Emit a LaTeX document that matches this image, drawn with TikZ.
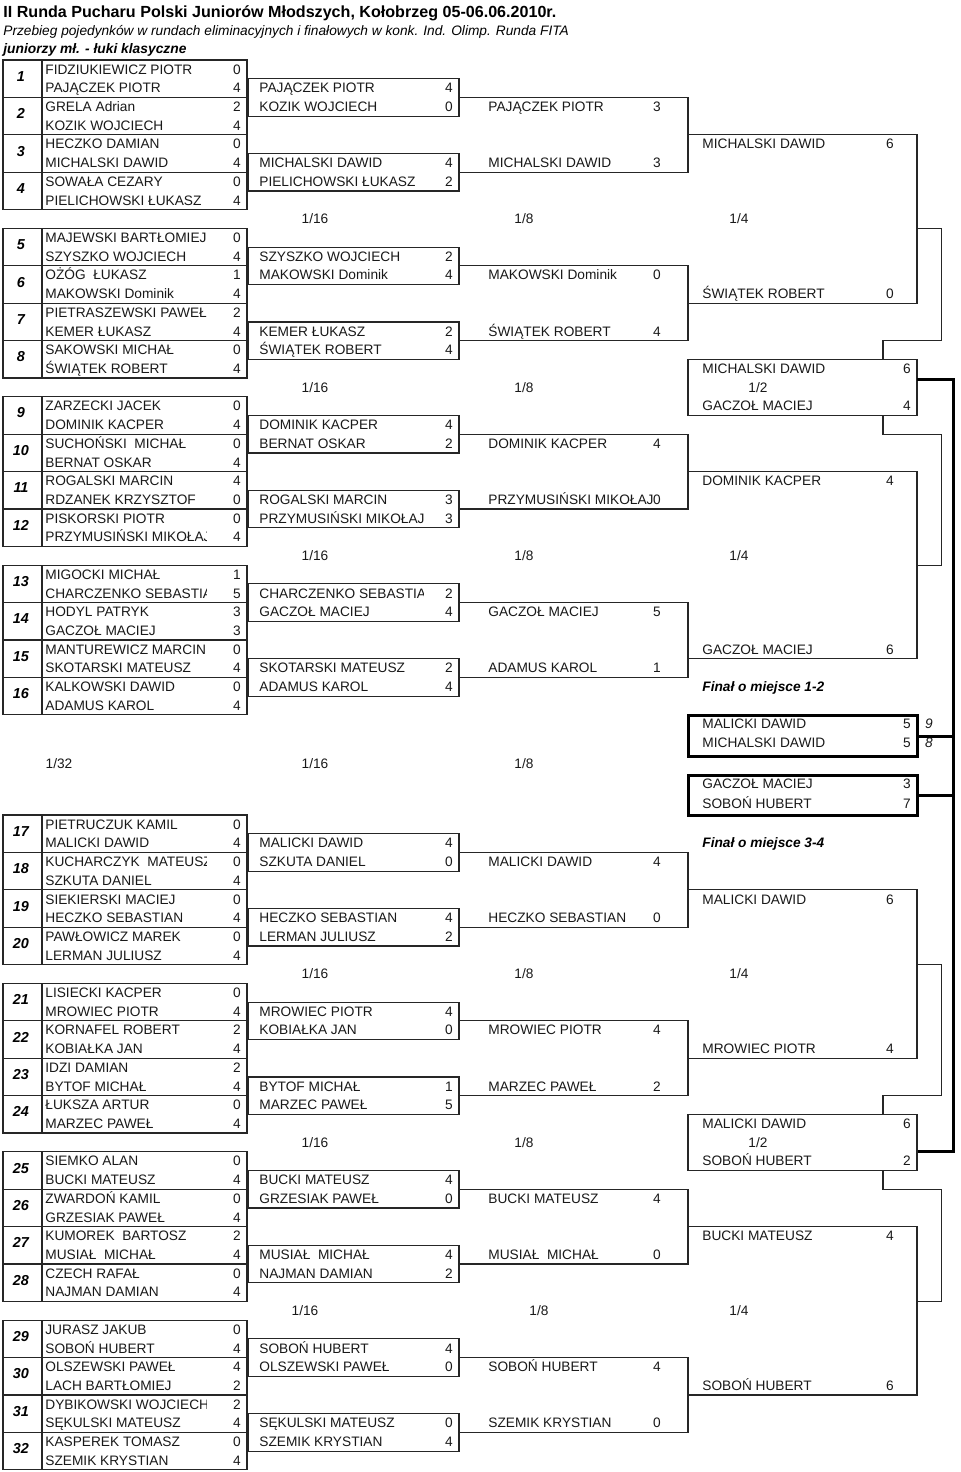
\documentclass[tikz,border=0pt]{standalone}
\usepackage{fontspec}
\setmainfont{Liberation Sans}
\def\h{18.71}
\newcommand{\T}[1]{60+#1*\h}
\newcommand{\B}[1]{815+#1*\h}
\tikzset{
  cell/.style={line width=0.6pt, draw=black!85},
  thk/.style={line width=1.5pt, draw=black},
  nm/.style={anchor=base west, inner sep=0pt, text=black!90, font=\fontsize{6.85pt}{8pt}\selectfont},
  sc/.style={anchor=base, inner sep=0pt, text=black!90, font=\fontsize{6.85pt}{8pt}\selectfont},
  num/.style={anchor=base, inner sep=0pt, text=black, font=\fontsize{7.2pt}{8pt}\selectfont\bfseries\itshape},
  lab/.style={anchor=base, inner sep=0pt, text=black!90, font=\fontsize{6.85pt}{8pt}\selectfont},
  fin/.style={anchor=base west, inner sep=0pt, text=black, font=\fontsize{6.85pt}{8pt}\selectfont\bfseries\itshape},
}
\newcommand{\nmt}[3]{\node[nm] at (#1,{#2+0.5*\h+4.8}) {#3};}
\newcommand{\sct}[3]{\node[sc] at (#1,{#2+0.5*\h+4.8}) {#3};}
% first-round match: row top y, number, A, sA, B, sB
\newcommand{\mt}[6]{%
  \draw[cell] (3,{#1}) rectangle (247,{#1+2*\h});
  \draw[cell] (42,{#1}) -- (42,{#1+2*\h});
  \node[num] at (21,{#1+\h+2.5}) {#2};
  \begin{scope}\clip (42,{#1}) rectangle (206,{#1+2*\h});
    \nmt{45}{#1}{#3}\nmt{45}{#1+\h}{#5}
  \end{scope}
  \sct{237}{#1}{#4}\sct{237}{#1+\h}{#6}}
% 1/16 box
\newcommand{\ms}[5]{%
  \draw[cell] (248,{#1}) rectangle (459,{#1+2*\h});
  \begin{scope}\clip (248,{#1}) rectangle (423,{#1+2*\h});
    \nmt{259}{#1}{#2}\nmt{259}{#1+\h}{#4}
  \end{scope}
  \sct{449}{#1}{#3}\sct{449}{#1+\h}{#5}}
% 1/8 bracket
\newcommand{\me}[6]{%
  \draw[cell] (459,{#1}) -- (688,{#1}) -- (688,{#2}) -- (459,{#2});
  \nmt{488}{#1}{#3}\sct{657}{#1}{#4}
  \nmt{488}{#2-\h}{#5}\sct{657}{#2-\h}{#6}}
% 1/4 bracket
\newcommand{\mq}[6]{%
  \draw[cell] (688,{#1}) -- (917,{#1}) -- (917,{#2}) -- (688,{#2});
  \nmt{702}{#1}{#3}\sct{890}{#1}{#4}
  \nmt{702}{#2-\h}{#5}\sct{890}{#2-\h}{#6}}
% 1/2 box
\newcommand{\mh}[5]{%
  \draw[cell] (688,{#1}) rectangle (917,{#1+3*\h});
  \nmt{702}{#1}{#2}\sct{907}{#1}{#3}
  \node[lab] at (758,{#1+1.5*\h+4.8}) {1/2};
  \nmt{702}{#1+2*\h}{#4}\sct{907}{#1+2*\h}{#5}}
% round labels
\newcommand{\lab}[3]{%
  \node[lab] at (315,{#1+0.5*\h+4.8}) {1/16};
  \node[lab] at (524,{#1+0.5*\h+4.8}) {1/8};
  \node[lab] at (#3,{#1+0.5*\h+4.8}) {#2};}
\begin{document}
\begin{tikzpicture}[x=0.5pt,y=-0.5pt]
\useasboundingbox (0,0) rectangle (960,1472);
\fill[white] (0,0) rectangle (960,1472);
% headings
\node[anchor=base west, inner sep=0pt, font=\fontsize{8.05pt}{10pt}\selectfont\bfseries] (title) at (3,18) {II Runda Pucharu Polski Juniorów Młodszych, Kołobrzeg 05-06.06.2010r.};
\node[anchor=base west, inner sep=0pt, font=\fontsize{6.85pt}{8pt}\selectfont\itshape] (sub) at (3,35) {Przebieg pojedynków w rundach eliminacyjnych i finałowych w konk. Ind. Olimp. Runda FITA};
\node[anchor=base west, inner sep=0pt, font=\fontsize{6.9pt}{8pt}\selectfont\bfseries\itshape] (cat) at (3,53.5) {juniorzy mł. - łuki klasyczne};

% ===== top half =====
\mt{\T{0}}{1}{FIDZIUKIEWICZ PIOTR}{0}{PAJĄCZEK PIOTR}{4}
\mt{\T{2}}{2}{GRELA Adrian}{2}{KOZIK WOJCIECH}{4}
\mt{\T{4}}{3}{HECZKO DAMIAN}{0}{MICHALSKI DAWID}{4}
\mt{\T{6}}{4}{SOWAŁA CEZARY}{0}{PIELICHOWSKI ŁUKASZ}{4}
\ms{\T{1}}{PAJĄCZEK PIOTR}{4}{KOZIK WOJCIECH}{0}
\ms{\T{5}}{MICHALSKI DAWID}{4}{PIELICHOWSKI ŁUKASZ}{2}
\me{\T{2}}{\T{6}}{PAJĄCZEK PIOTR}{3}{MICHALSKI DAWID}{3}
\lab{\T{8}}{1/4}{739}

\mt{\T{9}}{5}{MAJEWSKI BARTŁOMIEJ}{0}{SZYSZKO WOJCIECH}{4}
\mt{\T{11}}{6}{OŻÓG\ \ ŁUKASZ}{1}{MAKOWSKI Dominik}{4}
\mt{\T{13}}{7}{PIETRASZEWSKI PAWEŁ}{2}{KEMER ŁUKASZ}{4}
\mt{\T{15}}{8}{SAKOWSKI MICHAŁ}{0}{ŚWIĄTEK ROBERT}{4}
\ms{\T{10}}{SZYSZKO WOJCIECH}{2}{MAKOWSKI Dominik}{4}
\ms{\T{14}}{KEMER ŁUKASZ}{2}{ŚWIĄTEK ROBERT}{4}
\me{\T{11}}{\T{15}}{MAKOWSKI Dominik}{0}{ŚWIĄTEK ROBERT}{4}
\mq{\T{4}}{\T{13}}{MICHALSKI DAWID}{6}{ŚWIĄTEK ROBERT}{0}
\draw[cell] (917,{\T{9}}) -- (941.7,{\T{9}}) -- (941.7,{\T{15}}) -- (883,{\T{15}}) -- (883,{\T{16}});
\mh{\T{16}}{MICHALSKI DAWID}{6}{GACZOŁ MACIEJ}{4}
\node[lab] at (315,{\T{17}+0.5*\h+4.8}) {1/16};
\node[lab] at (524,{\T{17}+0.5*\h+4.8}) {1/8};

\mt{\T{18}}{9}{ZARZECKI JACEK}{0}{DOMINIK KACPER}{4}
\mt{\T{20}}{10}{SUCHOŃSKI\ \ MICHAŁ}{0}{BERNAT OSKAR}{4}
\mt{\T{22}}{11}{ROGALSKI MARCIN}{4}{RDZANEK KRZYSZTOF}{0}
\mt{\T{24}}{12}{PISKORSKI PIOTR}{0}{PRZYMUSIŃSKI MIKOŁAJ}{4}
\ms{\T{19}}{DOMINIK KACPER}{4}{BERNAT OSKAR}{2}
\ms{\T{23}}{ROGALSKI MARCIN}{3}{PRZYMUSIŃSKI MIKOŁAJ}{3}
\me{\T{20}}{\T{24}}{DOMINIK KACPER}{4}{PRZYMUSIŃSKI MIKOŁAJ}{0}
\draw[cell] (883,{\T{19}}) -- (883,{\T{20}}) -- (941.7,{\T{20}}) -- (941.7,{\T{27}}) -- (917,{\T{27}});
\lab{\T{26}}{1/4}{739}

\mt{\T{27}}{13}{MIGOCKI MICHAŁ}{1}{CHARCZENKO SEBASTIAN}{5}
\mt{\T{29}}{14}{HODYL PATRYK}{3}{GACZOŁ MACIEJ}{3}
\mt{\T{31}}{15}{MANTUREWICZ MARCIN}{0}{SKOTARSKI MATEUSZ}{4}
\mt{\T{33}}{16}{KALKOWSKI DAWID}{0}{ADAMUS KAROL}{4}
\ms{\T{28}}{CHARCZENKO SEBASTIAN}{2}{GACZOŁ MACIEJ}{4}
\ms{\T{32}}{SKOTARSKI MATEUSZ}{2}{ADAMUS KAROL}{4}
\me{\T{29}}{\T{33}}{GACZOŁ MACIEJ}{5}{ADAMUS KAROL}{1}
\mq{\T{22}}{\T{32}}{DOMINIK KACPER}{4}{GACZOŁ MACIEJ}{6}
\node[fin] (f12) at (702,{\T{33}+0.5*\h+4.8}) {Finał o miejsce 1-2};

% ===== finals =====
\draw[thk] (688,715) rectangle (917,756);
\node[nm] at (702,728.5) {MALICKI DAWID};
\node[sc] at (907,728.5) {5};
\node[nm] at (702,747.5) {MICHALSKI DAWID};
\node[sc] at (907,747.5) {5};
\node[sc, font=\fontsize{6.85pt}{8pt}\selectfont\itshape] at (929,728.5) {9};
\node[sc, font=\fontsize{6.85pt}{8pt}\selectfont\itshape] at (929,747.5) {8};
\draw[thk] (688,775) rectangle (917,815);
\node[nm] at (702,788) {GACZOŁ MACIEJ};
\node[sc] at (907,788) {3};
\node[nm] at (702,808.5) {SOBOŃ HUBERT};
\node[sc] at (907,808.5) {7};
\node[lab] at (59,768) {1/32};
\node[lab] at (315,768) {1/16};
\node[lab] at (524,768) {1/8};
\draw[thk] (917,379) -- (953,379) -- (953,{\B{18}}) -- (917,{\B{18}});
\draw[thk] (917,736) -- (953,736);
\draw[thk] (917,795) -- (953,795);

% ===== bottom half =====
\mt{\B{0}}{17}{PIETRUCZUK KAMIL}{0}{MALICKI DAWID}{4}
\mt{\B{2}}{18}{KUCHARCZYK\ \ MATEUSZ}{0}{SZKUTA DANIEL}{4}
\mt{\B{4}}{19}{SIEKIERSKI MACIEJ}{0}{HECZKO SEBASTIAN}{4}
\mt{\B{6}}{20}{PAWŁOWICZ MAREK}{0}{LERMAN JULIUSZ}{4}
\ms{\B{1}}{MALICKI DAWID}{4}{SZKUTA DANIEL}{0}
\ms{\B{5}}{HECZKO SEBASTIAN}{4}{LERMAN JULIUSZ}{2}
\me{\B{2}}{\B{6}}{MALICKI DAWID}{4}{HECZKO SEBASTIAN}{0}
\node[fin] (f34) at (702,{\B{1}+0.5*\h+4.8}) {Finał o miejsce 3-4};
\lab{\B{8}}{1/4}{739}

\mt{\B{9}}{21}{LISIECKI KACPER}{0}{MROWIEC PIOTR}{4}
\mt{\B{11}}{22}{KORNAFEL ROBERT}{2}{KOBIAŁKA JAN}{4}
\mt{\B{13}}{23}{IDZI DAMIAN}{2}{BYTOF MICHAŁ}{4}
\mt{\B{15}}{24}{ŁUKSZA ARTUR}{0}{MARZEC PAWEŁ}{4}
\ms{\B{10}}{MROWIEC PIOTR}{4}{KOBIAŁKA JAN}{0}
\ms{\B{14}}{BYTOF MICHAŁ}{1}{MARZEC PAWEŁ}{5}
\me{\B{11}}{\B{15}}{MROWIEC PIOTR}{4}{MARZEC PAWEŁ}{2}
\mq{\B{4}}{\B{13}}{MALICKI DAWID}{6}{MROWIEC PIOTR}{4}
\draw[cell] (917,{\B{8}}) -- (941.7,{\B{8}}) -- (941.7,{\B{15}}) -- (883,{\B{15}}) -- (883,{\B{16}});
\mh{\B{16}}{MALICKI DAWID}{6}{SOBOŃ HUBERT}{2}
\node[lab] at (315,{\B{17}+0.5*\h+4.8}) {1/16};
\node[lab] at (524,{\B{17}+0.5*\h+4.8}) {1/8};

\mt{\B{18}}{25}{SIEMKO ALAN}{0}{BUCKI MATEUSZ}{4}
\mt{\B{20}}{26}{ZWARDOŃ KAMIL}{0}{GRZESIAK PAWEŁ}{4}
\mt{\B{22}}{27}{KUMOREK\ \ BARTOSZ}{2}{MUSIAŁ\ \ MICHAŁ}{4}
\mt{\B{24}}{28}{CZECH RAFAŁ}{0}{NAJMAN DAMIAN}{4}
\ms{\B{19}}{BUCKI MATEUSZ}{4}{GRZESIAK PAWEŁ}{0}
\ms{\B{23}}{MUSIAŁ\ \ MICHAŁ}{4}{NAJMAN DAMIAN}{2}
\me{\B{20}}{\B{24}}{BUCKI MATEUSZ}{4}{MUSIAŁ\ \ MICHAŁ}{0}
\draw[cell] (883,{\B{19}}) -- (883,{\B{20}}) -- (941.7,{\B{20}}) -- (941.7,{\B{26}}) -- (917,{\B{26}});
\node[lab] at (305,{\B{26}+0.5*\h+4.8}) {1/16};
\node[lab] at (539,{\B{26}+0.5*\h+4.8}) {1/8};
\node[lab] at (739,{\B{26}+0.5*\h+4.8}) {1/4};

\mt{\B{27}}{29}{JURASZ JAKUB}{0}{SOBOŃ HUBERT}{4}
\mt{\B{29}}{30}{OLSZEWSKI PAWEŁ}{4}{LACH BARTŁOMIEJ}{2}
\mt{\B{31}}{31}{DYBIKOWSKI WOJCIECH}{2}{SĘKULSKI MATEUSZ}{4}
\mt{\B{33}}{32}{KASPEREK TOMASZ}{0}{SZEMIK KRYSTIAN}{4}
\ms{\B{28}}{SOBOŃ HUBERT}{4}{OLSZEWSKI PAWEŁ}{0}
\ms{\B{32}}{SĘKULSKI MATEUSZ}{0}{SZEMIK KRYSTIAN}{4}
\me{\B{29}}{\B{33}}{SOBOŃ HUBERT}{4}{SZEMIK KRYSTIAN}{0}
\mq{\B{22}}{\B{31}}{BUCKI MATEUSZ}{4}{SOBOŃ HUBERT}{6}
\end{tikzpicture}
\end{document}
